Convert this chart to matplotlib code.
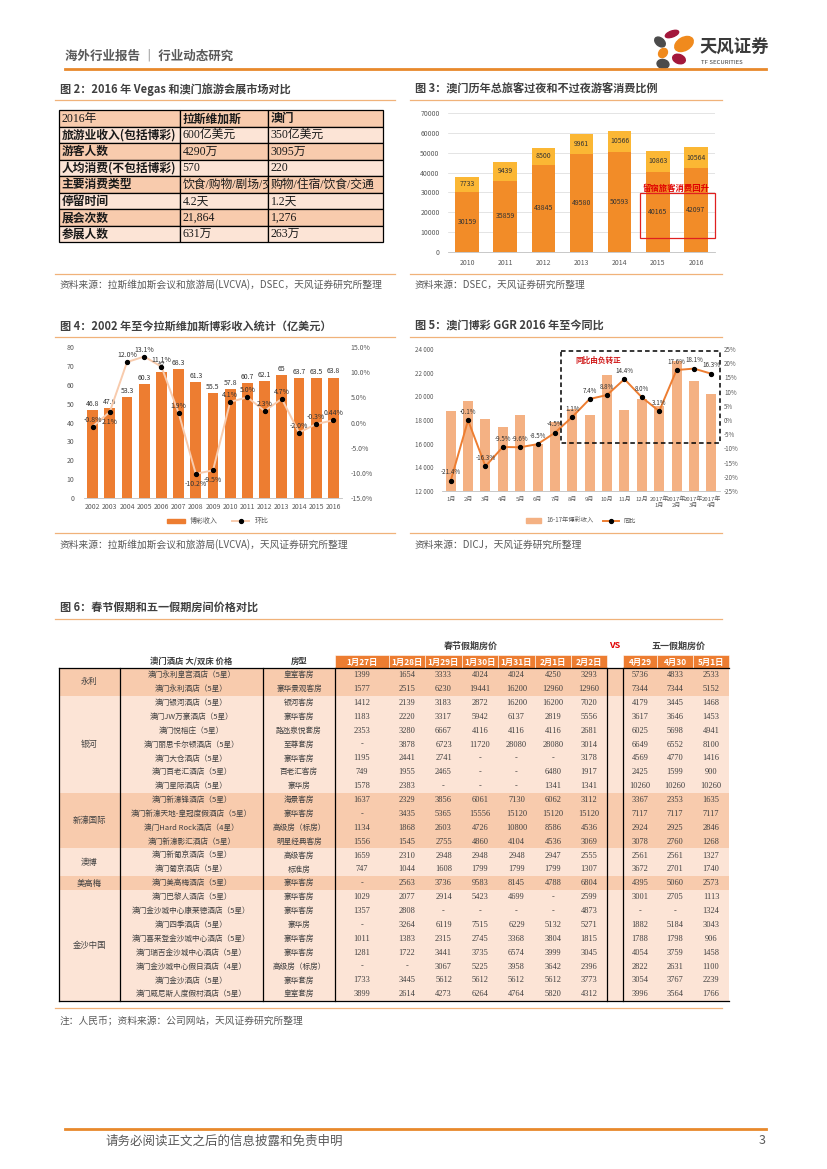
import numpy as np
import matplotlib.pyplot as plt
from matplotlib.patches import Rectangle, Ellipse, Patch
from matplotlib.lines import Line2D
from matplotlib.transforms import Affine2D
from matplotlib.ticker import FuncFormatter

plt.rcParams['font.family'] = ['Noto Sans CJK SC', 'DejaVu Sans']
plt.rcParams['axes.unicode_minus'] = False

# ---- figure 2 table
t2_header = ['2016年', '拉斯维加斯', '澳门']
t2_items = ['旅游业收入(包括博彩)', '游客人数', '人均消费(不包括博彩)', '主要消费类型',
            '停留时间', '展会次数', '参展人数']
t2_vegas = ['600亿美元', '4290万', '570', '饮食/购物/剧场/交通', '4.2天', '21,864', '631万']
t2_macau = ['350亿美元', '3095万', '220', '购物/住宿/饮食/交通', '1.2天', '1,276', '263万']

# ---- figure 3
years3 = ['2010', '2011', '2012', '2013', '2014', '2015', '2016']
overnight = [30159, 35859, 43845, 49580, 50593, 40165, 42097]
sameday = [7733, 9439, 8500, 9961, 10566, 10863, 10564]

# ---- figure 4
years4 = ['2002', '2003', '2004', '2005', '2006', '2007', '2008', '2009',
          '2010', '2011', '2012', '2013', '2014', '2015', '2016']
vegas_rev = [46.8, 47.6, 53.3, 60.3, 67.0, 68.3, 61.3, 55.5, 57.8, 60.7, 62.1, 65.0, 63.7, 63.5, 63.8]
vegas_rev_lbl = ['46.8', '47.6', '53.3', '60.3', '67', '68.3', '61.3', '55.5', '57.8',
                 '60.7', '62.1', '65', '63.7', '63.5', '63.8']
vegas_yoy = [-0.8, 2.1, 12.0, 13.1, 11.1, 1.9, -10.2, -9.5, 4.1, 5.0, 2.3, 4.7, -2.0, -0.3, 0.44]
vegas_yoy_lbl = ['-0.8%', '2.1%', '12.0%', '13.1%', '11.1%', '1.9%', '-10.2%', '-9.5%',
                 '4.1%', '5.0%', '2.3%', '4.7%', '-2.0%', '-0.3%', '0.44%']

# ---- figure 5
months5 = ['1月', '2月', '3月', '4月', '5月', '6月', '7月', '8月', '9月', '10月', '11月', '12月',
           '2017年\n1月', '2017年\n2月', '2017年\n3月', '2017年\n4月']
macau_ggr = [18800, 19600, 18050, 17400, 18450, 16000, 17800, 18900,
             18450, 21800, 18850, 19800, 19200, 23000, 21300, 20200]
macau_yoy = [-21.4, -0.1, -16.3, -9.5, -9.6, -8.5, -4.5, 1.1, 7.4, 8.8, 14.4, 8.0, 3.1, 17.6, 18.1, 16.3]

# ---- figure 6 table
groups = ['永利', '银河', '新濠国际', '澳博', '美高梅', '金沙中国']
group_sizes = [2, 7, 4, 2, 1, 8]
spring_days = ['1月27日', '1月28日', '1月29日', '1月30日', '1月31日', '2月1日', '2月2日']
may_days = ['4月29', '4月30', '5月1日']
hotels = ['澳门永利皇宫酒店（5星）', '澳门永利酒店（5星）', '澳门银河酒店（5星）', '澳门JW万豪酒店（5星）',
          '澳门悦榕庄（5星）', '澳门丽思卡尔顿酒店（5星）', '澳门大仓酒店（5星）', '澳门百老汇酒店（5星）',
          '澳门星际酒店（5星）', '澳门新濠锋酒店（5星）', '澳门新濠天地-皇冠度假酒店（5星）',
          '澳门Hard Rock酒店（4星）', '澳门新濠影汇酒店（5星）', '澳门新葡京酒店（5星）', '澳门葡京酒店（5星）',
          '澳门美高梅酒店（5星）', '澳门巴黎人酒店（5星）', '澳门金沙城中心康莱德酒店（5星）',
          '澳门四季酒店（5星）', '澳门喜来登金沙城中心酒店（5星）', '澳门瑞吉金沙城中心酒店（5星）',
          '澳门金沙城中心假日酒店（4星）', '澳门金沙酒店（5星）', '澳门威尼斯人度假村酒店（5星）']
rooms = ['皇室客房', '豪华景观客房', '银河客房', '豪华客房', '路氹泉悦套房', '至尊套房', '豪华客房', '百老汇客房',
         '豪华房', '海景客房', '豪华客房', '高级房（标房）', '明星经典客房', '高级客房', '标准房', '豪华客房',
         '豪华客房', '豪华客房', '豪华房', '豪华客房', '豪华客房', '高级房（标房）', '豪华套房', '皇室套房']
spring_prices = [
    ['1399', '1654', '3333', '4024', '4024', '4250', '3293'],
    ['1577', '2515', '6230', '19441', '16200', '12960', '12960'],
    ['1412', '2139', '3183', '2872', '16200', '16200', '7020'],
    ['1183', '2220', '3317', '5942', '6137', '2819', '5556'],
    ['2353', '3280', '6667', '4116', '4116', '4116', '2681'],
    ['-', '3878', '6723', '11720', '28080', '28080', '3014'],
    ['1195', '2441', '2741', '-', '-', '-', '3178'],
    ['749', '1955', '2465', '-', '-', '6480', '1917'],
    ['1578', '2383', '-', '-', '-', '1341', '1341'],
    ['1637', '2329', '3856', '6061', '7130', '6062', '3112'],
    ['-', '3435', '5365', '15556', '15120', '15120', '15120'],
    ['1134', '1868', '2603', '4726', '10800', '8586', '4536'],
    ['1556', '1545', '2755', '4860', '4104', '4536', '3069'],
    ['1659', '2310', '2948', '2948', '2948', '2947', '2555'],
    ['747', '1044', '1608', '1799', '1799', '1799', '1307'],
    ['-', '2563', '3736', '9583', '8145', '4788', '6804'],
    ['1029', '2077', '2914', '5423', '4699', '-', '2599'],
    ['1357', '2808', '-', '-', '-', '-', '4873'],
    ['-', '3264', '6119', '7515', '6229', '5132', '5271'],
    ['1011', '1383', '2315', '2745', '3368', '3804', '1815'],
    ['1281', '1722', '3441', '3735', '6574', '3999', '3045'],
    ['-', '-', '3067', '5225', '3958', '3642', '2396'],
    ['1733', '3445', '5612', '5612', '5612', '5612', '3773'],
    ['3899', '2614', '4273', '6264', '4764', '5820', '4312'],
]
may_prices = [
    ['5736', '4833', '2533'], ['7344', '7344', '5152'], ['4179', '3445', '1468'],
    ['3617', '3646', '1453'], ['6025', '5698', '4941'], ['6649', '6552', '8100'],
    ['4569', '4770', '1416'], ['2425', '1599', '900'], ['10260', '10260', '10260'],
    ['3367', '2353', '1635'], ['7117', '7117', '7117'], ['2924', '2925', '2846'],
    ['3078', '2760', '1268'], ['2561', '2561', '1327'], ['3672', '2701', '1740'],
    ['4395', '5060', '2573'], ['3001', '2705', '1113'], ['-', '-', '1324'],
    ['1882', '5184', '3043'], ['1788', '1798', '906'], ['4054', '3759', '1458'],
    ['2822', '2631', '1100'], ['3054', '3767', '2239'], ['3996', '3564', '1766'],
]

# colours
ORANGE = '#ED7D31'
BAR3 = '#F28C28'
GOLD = '#FBB734'
LIGHT_BAR = '#F4B183'
PEACH_D = '#F8CBAD'
PEACH_L = '#FCE4D6'
RULE = '#F0B27A'
GREY = '#595959'
TXT = '#404040'
SERIF = ['Liberation Serif', 'Noto Sans CJK SC']

W, H = 827, 1169
fig = plt.figure(figsize=(W / 100, H / 100), dpi=100)
px = Affine2D().scale(1 / W, -1 / H).translate(0, 1) + fig.transFigure


def text(x, y, s, size=7, **kw):
    kw.setdefault('va', 'center')
    kw.setdefault('color', TXT)
    return fig.text(x, y, s, fontsize=size, transform=px, **kw)


def hline(x0, x1, y, color=RULE, lw=0.9, **kw):
    fig.add_artist(Line2D([x0, x1], [y, y], transform=px, color=color, lw=lw, **kw))


def vline(x, y0, y1, color='black', lw=0.9):
    fig.add_artist(Line2D([x, x], [y0, y1], transform=px, color=color, lw=lw))


def box(x, y, w, h, **kw):
    r = Rectangle((x, y), w, h, transform=px, **kw)
    fig.add_artist(r)
    return r


def axes_at(l, t, r, b):
    return fig.add_axes([l / W, 1 - b / H, (r - l) / W, (b - t) / H])


def style(ax):
    for s in ['top', 'right', 'left']:
        ax.spines[s].set_visible(False)
    ax.spines['bottom'].set_color('#BFBFBF')
    ax.spines['bottom'].set_linewidth(0.6)
    ax.tick_params(length=0, labelsize=5, colors=GREY)
    ax.set_facecolor('none')


# ---- page header
text(65, 56, '海外行业报告 ｜ 行业动态研究', 9, color=GREY, weight='bold')
hline(65, 766, 69, color='#E8892B', lw=2)
logo = [((672, 34), 6, 14, 70, '#A3173B'), ((660, 42), 8, 12, 130, '#4B4B4B'),
        ((684, 44), 13, 20, 60, '#F08A1D'), ((663, 53), 8, 10, 40, '#F08A1D'),
        ((679, 59), 9, 13, 110, '#A3173B'), ((663, 64), 9, 12, 100, '#4B4B4B')]
for c, w, h, a, col in logo:
    fig.add_artist(Ellipse(c, w, h, angle=a, transform=px, color=col))
text(700, 48, '天风证券', 12.5, color='#3A3A3A', weight='bold')
text(701, 63, 'TF SECURITIES', 4.3, color='#3A3A3A')

# ---- section titles, rules and sources
text(60, 89, '图 2：2016 年 Vegas 和澳门旅游会展市场对比', 8, weight='bold')
hline(55, 395, 100)
hline(55, 395, 274)
text(60, 285, '资料来源：拉斯维加斯会议和旅游局(LVCVA)，DSEC，天风证券研究所整理', 7, color=GREY)

text(415, 89, '图 3：澳门历年总旅客过夜和不过夜游客消费比例', 8, weight='bold')
hline(410, 722, 100)
hline(410, 722, 274)
text(415, 285, '资料来源：DSEC，天风证券研究所整理', 7, color=GREY)

text(60, 326, '图 4：2002 年至今拉斯维加斯博彩收入统计（亿美元）', 8, weight='bold')
hline(55, 395, 337)
hline(55, 395, 533)
text(60, 545, '资料来源：拉斯维加斯会议和旅游局(LVCVA)，天风证券研究所整理', 7, color=GREY)

text(415, 326, '图 5：澳门博彩 GGR 2016 年至今同比', 8, weight='bold')
hline(410, 722, 337)
hline(410, 722, 533)
text(415, 545, '资料来源：DICJ，天风证券研究所整理', 7, color=GREY)

text(60, 607, '图 6：春节假期和五一假期房间价格对比', 8, weight='bold')
hline(55, 722, 619)
hline(55, 722, 1008)
text(60, 1020, '注：人民币；资料来源：公司网站，天风证券研究所整理', 7, color=GREY)

# ---- page footer
hline(65, 766, 1129, color='#E8892B', lw=2)
text(105, 1141, '请务必阅读正文之后的信息披露和免责申明', 9, color=GREY)
text(766, 1141, '3', 9, color=GREY, ha='right')

# ---- figure 2 table
cols2 = [59, 180, 268, 383]
top2, rh2 = 110, 16.5
rows2 = [t2_header] + [[a, b, c] for a, b, c in zip(t2_items, t2_vegas, t2_macau)]
for i, row in enumerate(rows2):
    y = top2 + i * rh2
    fc = PEACH_D if i % 2 == 0 else PEACH_L
    for j, val in enumerate(row):
        cell = box(cols2[j], y, cols2[j + 1] - cols2[j], rh2, facecolor=fc,
                   edgecolor='black', lw=0.9, zorder=1)
        bold = (j == 0 and i > 0) or (i == 0 and j > 0)
        t = text(cols2[j] + 2.5, y + rh2 / 2 + 0.5, val, 8.5,
                 family=['Noto Sans CJK SC'] if bold else SERIF,
                 weight='bold' if bold else 'normal', color='#1A1A1A', zorder=2)
        t.set_clip_path(cell)

# ---- figure 3 chart
ax3 = axes_at(448, 113, 715, 252)
x3 = np.arange(len(years3))
b1 = ax3.bar(x3, overnight, 0.62, color=BAR3, zorder=2)
b2 = ax3.bar(x3, sameday, 0.62, bottom=overnight, color=GOLD, zorder=2)
ax3.bar_label(b1, label_type='center', fontsize=5, color='#333333')
ax3.bar_label(b2, label_type='center', fontsize=5, color='#333333')
ax3.set_ylim(0, 70000)
ax3.set_yticks(np.arange(0, 70001, 10000))
ax3.set_xlim(-0.5, len(years3) - 0.5)
ax3.set_xticks(x3, years3)
ax3.grid(axis='y', color='#D9D9D9', lw=0.5, zorder=0)
style(ax3)
ax3.tick_params(axis='x', pad=5)
ax3.tick_params(axis='y', pad=6)
box(640, 193, 75, 45, facecolor='none', edgecolor='#E02020', lw=0.9, zorder=5)
text(676, 188, '留宿旅客消费回升', 6, color='#E00000', weight='bold', ha='center', zorder=5)

# ---- figure 4 chart
ax4 = axes_at(84, 347, 342, 498)
x4 = np.arange(len(years4))
bars4 = ax4.bar(x4, vegas_rev, 0.62, color=ORANGE, label='博彩收入')
ax4.bar_label(bars4, labels=vegas_rev_lbl, fontsize=5, padding=1.5, color='#333333')
ax4.set_ylim(0, 80)
ax4.set_yticks(np.arange(0, 81, 10))
ax4.set_xlim(-0.5, len(years4) - 0.5)
ax4.set_xticks(x4, years4)
style(ax4)
ax4.tick_params(axis='y', pad=7)
ax4r = ax4.twinx()
ax4r.plot(x4, vegas_yoy, color='#F8CBAD', lw=1.4, marker='o', ms=2.8,
          mfc='black', mec='black', label='环比')
ax4r.set_ylim(-15, 15)
ax4r.set_yticks(np.arange(-15, 16, 5))
ax4r.yaxis.set_major_formatter(FuncFormatter(lambda v, p: f'{v:.1f}%'))
for s in ax4r.spines.values():
    s.set_visible(False)
ax4r.tick_params(length=0, labelsize=5, colors=GREY, pad=6)
below4 = {1, 6, 7}
for i, (v, lab) in enumerate(zip(vegas_yoy, vegas_yoy_lbl)):
    dy = -7 if i in below4 else 5
    ax4r.annotate(lab, (i, v), xytext=(0, dy), textcoords='offset points',
                  ha='center', va='center', fontsize=5, color='#333333')
h4 = [Patch(color=ORANGE, label='博彩收入'),
      Line2D([], [], color='#F8CBAD', lw=1.4, marker='o', ms=2.8, mfc='black', mec='black', label='环比')]
ax4.legend(handles=h4, loc='center', bbox_to_anchor=(0.52, -0.155), ncol=2, frameon=False,
           fontsize=5, handlelength=2.5, columnspacing=2, labelcolor=GREY)

# ---- figure 5 chart
ax5 = axes_at(442, 349, 720, 491)
x5 = np.arange(len(months5))
ax5.bar(x5, macau_ggr, 0.58, color=LIGHT_BAR)
ax5.set_ylim(12000, 24000)
ax5.set_yticks(np.arange(12000, 24001, 2000))
ax5.yaxis.set_major_formatter(FuncFormatter(lambda v, p: f'{int(v):,}'.replace(',', ' ')))
ax5.set_xlim(-0.5, len(months5) - 0.5)
ax5.set_xticks(x5, months5)
style(ax5)
ax5.tick_params(axis='x', labelsize=4.3, pad=4)
ax5.tick_params(axis='y', labelsize=4.5, pad=6)
ax5r = ax5.twinx()
ax5r.plot(x5, macau_yoy, color=ORANGE, lw=1.4, marker='o', ms=2.8, mfc='black', mec='black')
ax5r.set_ylim(-25, 25)
ax5r.set_yticks(np.arange(-25, 26, 5))
ax5r.yaxis.set_major_formatter(FuncFormatter(lambda v, p: f'{v:.0f}%'))
for s in ax5r.spines.values():
    s.set_visible(False)
ax5r.tick_params(length=0, labelsize=4.5, colors=GREY, pad=3)
for i, v in enumerate(macau_yoy):
    ax5r.annotate(f'{v:.1f}%', (i, v), xytext=(0, 6), textcoords='offset points',
                  ha='center', va='center', fontsize=4.5, color='#333333')
h5 = [Patch(color=LIGHT_BAR, label='16-17年博彩收入'),
      Line2D([], [], color=ORANGE, lw=1.4, marker='o', ms=2.8, mfc='black', mec='black', label='同比')]
ax5.legend(handles=h5, loc='center', bbox_to_anchor=(0.5, -0.21), ncol=2, frameon=False,
           fontsize=4.5, handlelength=2.5, columnspacing=1.5, labelcolor=GREY)
box(561, 351, 159, 92, facecolor='none', edgecolor='black', lw=1.1, ls=(0, (3, 2)), zorder=5)
text(598, 360, '同比由负转正', 5.5, color='#D01818', weight='bold', ha='center', zorder=5)

# ---- figure 6 table
x_grp, x_hotel, x_room = 59, 120, 263
spring_cols = [335, 389, 425, 462, 498, 535, 571, 607]
may_cols = [623, 657, 693, 729]
top6, hdr6 = 668, 655
rh6 = (1001 - top6) / len(hotels)

text((spring_cols[0] + spring_cols[-1]) / 2, 646, '春节假期房价', 6.5, weight='bold', ha='center')
text(615, 646, 'VS', 6.5, weight='bold', ha='center', color='#E00000')
text((may_cols[0] + may_cols[-1]) / 2 + 3, 646, '五一假期房价', 6.5, weight='bold', ha='center')
text((x_hotel + x_room) / 2, 661, '澳门酒店 大/双床 价格', 6, weight='bold', ha='center')
text((x_room + spring_cols[0]) / 2, 661, '房型', 6, weight='bold', ha='center')
for cols, days in [(spring_cols, spring_days), (may_cols, may_days)]:
    for j, d in enumerate(days):
        box(cols[j], hdr6, cols[j + 1] - cols[j], top6 - hdr6, facecolor=ORANGE,
            edgecolor='white', lw=0.4, zorder=1)
        text((cols[j] + cols[j + 1]) / 2, (hdr6 + top6) / 2 + 0.5, d, 6, weight='bold',
             color='white', ha='center', family=['Noto Sans CJK SC'], zorder=2)

r = 0
for g, (name, n) in enumerate(zip(groups, group_sizes)):
    fc = PEACH_D if g % 2 == 0 else PEACH_L
    box(x_grp, top6 + r * rh6, may_cols[-1] - x_grp, n * rh6, facecolor=fc, lw=0, zorder=1)
    text((x_grp + x_hotel) / 2, top6 + (r + n / 2) * rh6, name, 6, ha='center', zorder=2)
    r += n

for i in range(len(hotels)):
    yc = top6 + (i + 0.5) * rh6 + 0.3
    text((x_hotel + x_room) / 2, yc, hotels[i], 5.5, ha='center', zorder=2)
    text((x_room + spring_cols[0]) / 2, yc, rooms[i], 5.5, ha='center', zorder=2)
    for j, v in enumerate(spring_prices[i]):
        text((spring_cols[j] + spring_cols[j + 1]) / 2, yc, v, 6, ha='center', family=SERIF, zorder=2)
    for j, v in enumerate(may_prices[i]):
        text((may_cols[j] + may_cols[j + 1]) / 2, yc, v, 6, ha='center', family=SERIF, zorder=2)

hline(x_grp, may_cols[-1], top6, color='black', lw=0.9)
hline(x_grp, may_cols[-1], 1001, color='black', lw=0.9)
for xv in [x_grp, x_hotel, x_room, spring_cols[0], spring_cols[-1], may_cols[0]]:
    vline(xv, top6, 1001)

fig.savefig('out.png', dpi=100)
